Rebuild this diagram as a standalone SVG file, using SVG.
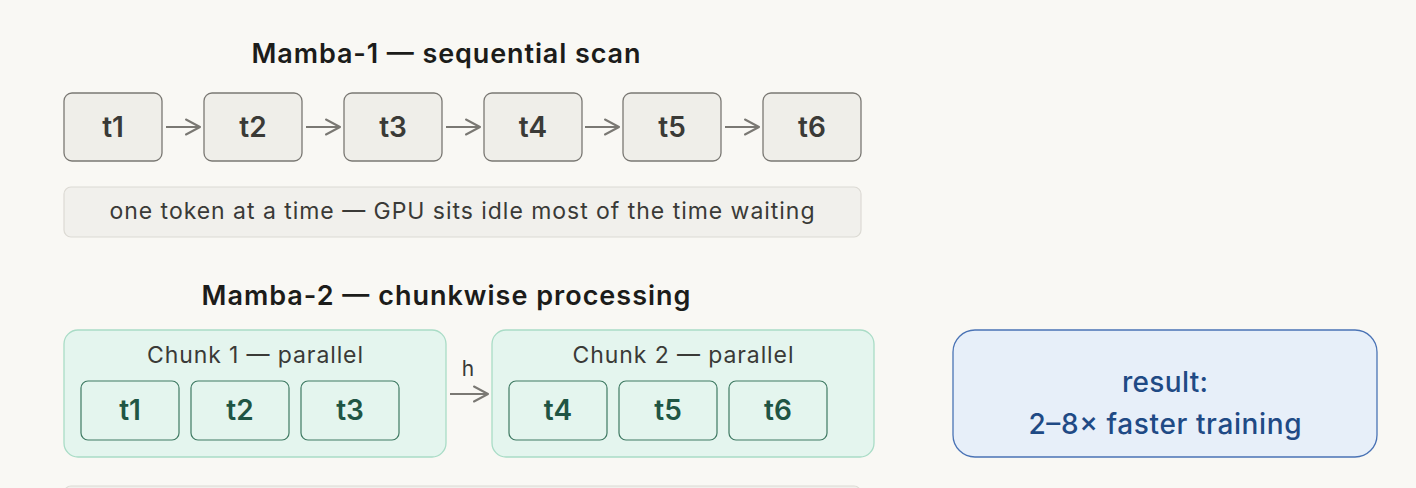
<svg xmlns="http://www.w3.org/2000/svg" width="1416" height="488" viewBox="0 0 1416 488">
<defs>
<marker id="ah" viewBox="0 0 18 18" refX="16" refY="9" markerWidth="18" markerHeight="18" markerUnits="userSpaceOnUse" orient="auto">
<path d="M2,1.5 L16,9 L2,16.5" fill="none" stroke="#7a7873" stroke-width="2" stroke-linecap="round" stroke-linejoin="round"/>
</marker>
<style>
text{font-family:Inter,"Noto Sans","Liberation Sans",sans-serif}
.title{font-size:27px;font-weight:600;fill:#1c1c1a;text-anchor:middle}
.tok{fill:#efeee9;stroke:#7a7873;stroke-width:1.3}
.toktxt{font-size:28px;font-weight:600;fill:#3a3a37;text-anchor:middle}
.cap{fill:#f1f0ec;stroke:#dcdad4;stroke-width:1.2}
.captxt{font-size:23px;fill:#3a3a37;text-anchor:middle}
.chunk{fill:#e4f5ee;stroke:#a9dcc6;stroke-width:1.3}
.chunktxt{font-size:23px;fill:#3a3a37;text-anchor:middle}
.ctok{fill:#e4f5ee;stroke:#3f7a63;stroke-width:1.2}
.ctoktxt{font-size:28px;font-weight:600;fill:#1f5544;text-anchor:middle}
.conn{stroke:#7a7873;stroke-width:2;fill:none}
.res{fill:#e7eff9;stroke:#4a73b5;stroke-width:1.3}
.restxt{font-size:28px;font-weight:500;fill:#1f4a85;text-anchor:middle}
</style>
</defs>
<rect width="1416" height="488" fill="#f9f8f4"/>
<text class="title" x="446" y="63" textLength="389" lengthAdjust="spacing">Mamba-1 — sequential scan</text>
<g id="s1"><rect class="tok" x="64" y="93" width="98" height="68" rx="8"/><text class="toktxt" x="113" y="137">t1</text></g>
<g id="s2"><rect class="tok" x="204" y="93" width="98" height="68" rx="8"/><text class="toktxt" x="253" y="137">t2</text></g>
<g id="s3"><rect class="tok" x="344" y="93" width="98" height="68" rx="8"/><text class="toktxt" x="393" y="137">t3</text></g>
<g id="s4"><rect class="tok" x="484" y="93" width="98" height="68" rx="8"/><text class="toktxt" x="533" y="137">t4</text></g>
<g id="s5"><rect class="tok" x="623" y="93" width="98" height="68" rx="8"/><text class="toktxt" x="672" y="137">t5</text></g>
<g id="s6"><rect class="tok" x="763" y="93" width="98" height="68" rx="8"/><text class="toktxt" x="812" y="137">t6</text></g>
<g id="caption1"><rect class="cap" x="64" y="187" width="797" height="50" rx="7"/><text class="captxt" x="462" y="219" textLength="705" lengthAdjust="spacing">one token at a time — GPU sits idle most of the time waiting</text></g>
<text class="title" x="446" y="305" textLength="489" lengthAdjust="spacing">Mamba-2 — chunkwise processing</text>
<g id="chunk1"><rect class="chunk" x="64" y="330" width="382" height="127" rx="14"/><text class="chunktxt" x="255" y="363" textLength="216" lengthAdjust="spacing">Chunk 1 — parallel</text>
<rect class="ctok" x="81" y="381" width="98" height="59" rx="7"/><text class="ctoktxt" x="130" y="420">t1</text>
<rect class="ctok" x="191" y="381" width="98" height="59" rx="7"/><text class="ctoktxt" x="240" y="420">t2</text>
<rect class="ctok" x="301" y="381" width="98" height="59" rx="7"/><text class="ctoktxt" x="350" y="420">t3</text></g>
<g id="chunk2"><rect class="chunk" x="492" y="330" width="382" height="127" rx="14"/><text class="chunktxt" x="683" y="363" textLength="221" lengthAdjust="spacing">Chunk 2 — parallel</text>
<rect class="ctok" x="509" y="381" width="98" height="59" rx="7"/><text class="ctoktxt" x="558" y="420">t4</text>
<rect class="ctok" x="619" y="381" width="98" height="59" rx="7"/><text class="ctoktxt" x="668" y="420">t5</text>
<rect class="ctok" x="729" y="381" width="98" height="59" rx="7"/><text class="ctoktxt" x="778" y="420">t6</text></g>
<g id="result"><rect class="res" x="953" y="330" width="424" height="127" rx="22"/><text class="restxt" x="1165" y="392" textLength="86" lengthAdjust="spacing">result:</text><text class="restxt" x="1165" y="434" textLength="273" lengthAdjust="spacing">2–8× faster training</text></g>
<g id="caption2"><rect class="cap" x="64" y="486" width="797" height="50" rx="7"/></g>
<g id="connectors">
<line class="conn" x1="166" y1="127" x2="200" y2="127" marker-end="url(#ah)"/>
<line class="conn" x1="306" y1="127" x2="340" y2="127" marker-end="url(#ah)"/>
<line class="conn" x1="446" y1="127" x2="480" y2="127" marker-end="url(#ah)"/>
<line class="conn" x1="585" y1="127" x2="619" y2="127" marker-end="url(#ah)"/>
<line class="conn" x1="725" y1="127" x2="759" y2="127" marker-end="url(#ah)"/>
<line class="conn" x1="450" y1="394" x2="488" y2="394" marker-end="url(#ah)"/>
<text x="468" y="376" style="font-size:21px;fill:#3a3a37;text-anchor:middle">h</text>
</g>
</svg>
